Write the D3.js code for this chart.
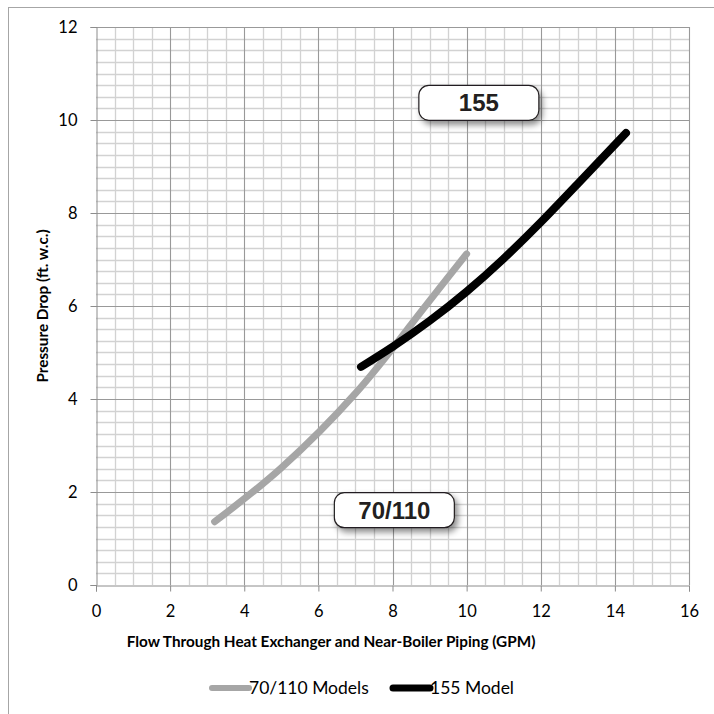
<!DOCTYPE html>
<html><head><meta charset="utf-8">
<script src="https://cdn.jsdelivr.net/npm/d3@7"></script>
<style>body{margin:0;background:#fff}svg{display:block}</style>
</head><body>
<svg id="c" width="714" height="714"></svg>
<script>
// ---- data ----
const xTicks = [0, 2, 4, 6, 8, 10, 12, 14, 16];
const yTicks = [0, 2, 4, 6, 8, 10, 12];
const seriesNames = ["70/110 Models", "155 Model"];
const gpm70 = [3.2, 5, 7, 8.5, 10];
const drop70 = [1.36, 2.52, 4.12, 5.60, 7.12];
const gpm155 = [7.15, 8, 9, 10, 11, 12, 13, 14.3];
const drop155 = [4.69, 5.12, 5.68, 6.31, 7.02, 7.80, 8.63, 9.72];
const labels = ["155", "70/110"];
const labelPos = [[10.33, 10.37], [8.05, 1.61]]; // data-space centers

const svg = d3.select("#c");
const L = 96, R = 689, T = 27, B = 585;
const x = d3.scaleLinear().domain([0, 16]).range([L, R]);
const y = d3.scaleLinear().domain([0, 12]).range([B, T]);

// defs
const defs = svg.append("defs");
const f = defs.append("filter").attr("id", "sh").attr("x", "-30%").attr("y", "-40%").attr("width", "160%").attr("height", "200%");
f.append("feDropShadow").attr("dx", 3).attr("dy", 4).attr("stdDeviation", 3).attr("flood-color", "#000").attr("flood-opacity", 0.45);

// outer border
svg.append("rect").attr("x", 8.5).attr("y", 7.5).attr("width", 800).attr("height", 800)
  .attr("fill", "none").attr("stroke", "#a6a6a6").attr("stroke-width", 1);

// minor grid
const g = svg.append("g");
const xMinor = d3.range(0, 16.01, 0.5).filter(v => v % 2 !== 0);
const yMinor = d3.range(0, 12.01, 0.25).filter(v => v % 2 !== 0);
g.selectAll(".xm").data(xMinor).join("line")
  .attr("x1", d => Math.round(x(d)) + 0.5).attr("x2", d => Math.round(x(d)) + 0.5)
  .attr("y1", T).attr("y2", B).attr("stroke", "#d2d2d2").attr("stroke-width", 1.3);
g.selectAll(".ym").data(yMinor).join("line")
  .attr("y1", d => Math.round(y(d)) + 0.5).attr("y2", d => Math.round(y(d)) + 0.5)
  .attr("x1", L).attr("x2", R).attr("stroke", "#d2d2d2").attr("stroke-width", 1.3);
// major grid
g.selectAll(".xM").data(xTicks.slice(1)).join("line")
  .attr("x1", d => Math.round(x(d)) + 0.5).attr("x2", d => Math.round(x(d)) + 0.5)
  .attr("y1", T).attr("y2", B).attr("stroke", "#999").attr("stroke-width", 1.1);
g.selectAll(".yM").data(yTicks.slice(1)).join("line")
  .attr("y1", d => Math.round(y(d)) + 0.5).attr("y2", d => Math.round(y(d)) + 0.5)
  .attr("x1", L).attr("x2", R).attr("stroke", "#999").attr("stroke-width", 1.1);

// axes
const ax = svg.append("g").attr("transform", `translate(0,${B + 0.5})`)
  .call(d3.axisBottom(x).tickValues(xTicks).tickSize(6).tickPadding(14).tickFormat(d3.format("d")));
const ay = svg.append("g").attr("transform", `translate(${L + 0.5},0)`)
  .call(d3.axisLeft(y).tickValues(yTicks).tickSize(6).tickPadding(13).tickFormat(d3.format("d")));
[ax, ay].forEach(a => {
  a.select(".domain").attr("stroke", "#8c8c8c");
  a.selectAll(".tick line").attr("stroke", "#8c8c8c");
  a.selectAll("text").attr("font-family", "Lato, 'Open Sans', sans-serif").attr("font-size", 16.5).attr("fill", "#000");
});
ay.selectAll("text").attr("dy", "0.36em");

// axis titles
svg.append("text").attr("x", 331).attr("y", 647).attr("text-anchor", "middle")
  .attr("font-family", "Lato, 'Open Sans', sans-serif").attr("font-weight", "bold").attr("font-size", 15.3)
  .text("Flow Through Heat Exchanger and Near-Boiler Piping (GPM)");
svg.append("text").attr("transform", "translate(48,306) rotate(-90)").attr("text-anchor", "middle")
  .attr("font-family", "Lato, 'Open Sans', sans-serif").attr("font-weight", "bold").attr("font-size", 15.3)
  .text("Pressure Drop (ft. w.c.)");

// lines
const line = d3.line().x(d => x(d[0])).y(d => y(d[1])).curve(d3.curveNatural);
const s70 = gpm70.map((v, i) => [v, drop70[i]]);
const s155 = gpm155.map((v, i) => [v, drop155[i]]);
const colors = ["#a6a6a6", "#000000"];
svg.append("path").datum(s70).attr("d", line).attr("fill", "none").attr("stroke", colors[0])
  .attr("stroke-width", 7).attr("stroke-linecap", "round");
svg.append("path").datum(s155).attr("d", line).attr("fill", "none").attr("stroke", colors[1])
  .attr("stroke-width", 8).attr("stroke-linecap", "round");

// annotation boxes
labels.forEach((t, i) => {
  const cx = x(labelPos[i][0]), cy = y(labelPos[i][1]);
  const w = 120, h = 35;
  const gg = svg.append("g");
  gg.append("rect").attr("x", cx - w / 2).attr("y", cy - h / 2).attr("width", w).attr("height", h)
    .attr("rx", 10).attr("fill", "#fff").attr("stroke", "#231f20").attr("stroke-width", 1.2).attr("filter", "url(#sh)");
  gg.append("text").attr("x", cx).attr("y", cy).attr("dy", "0.36em").attr("text-anchor", "middle")
    .attr("font-family", "'Liberation Sans', Arial, sans-serif").attr("font-weight", "bold").attr("font-size", 24)
    .attr("fill", "#231f20").text(t);
});

// legend
const legX = [212, 393];
seriesNames.forEach((n, i) => {
  svg.append("line").attr("x1", legX[i]).attr("x2", legX[i] + 37).attr("y1", 688).attr("y2", 688)
    .attr("stroke", colors[i]).attr("stroke-width", i ? 7 : 6).attr("stroke-linecap", "round");
  svg.append("text").attr("x", legX[i] + 37).attr("y", 688).attr("dy", "0.36em")
    .attr("font-family", "Lato, 'Open Sans', sans-serif").attr("font-size", 17.5).text(n);
});
</script>
</body></html>
